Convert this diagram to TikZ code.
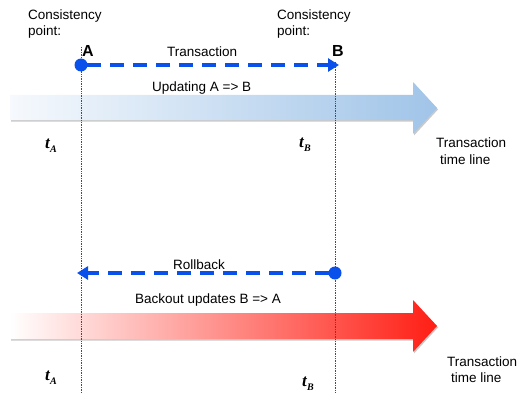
\documentclass[tikz,border=0pt]{standalone}
\usepackage{fontspec}
\setmainfont{Liberation Sans}
\newfontfamily\tfont{Liberation Serif}
\usetikzlibrary{arrows.meta,shadows}

\definecolor{lineblue}{RGB}{10,80,235}
\definecolor{paleblue}{RGB}{160,196,232}
\definecolor{startblue}{RGB}{246,249,253}
\definecolor{hotred}{RGB}{255,30,20}

\tikzset{
  lbl/.style={font=\fontsize{13.5}{15}\selectfont, inner sep=0pt, anchor=base west},
  ptlbl/.style={font=\fontsize{16}{18}\selectfont\bfseries, inner sep=0pt, anchor=base west},
  tlbl/.style={font=\fontsize{17}{19}\selectfont\tfont\bfseries\itshape, inner sep=0pt, anchor=base west},
  guide/.style={densely dotted, line width=0.7pt, black!70},
  flow/.style={draw=lineblue, line width=3.8pt, dash pattern=on 14pt off 9pt,
               -{Triangle[length=11pt,width=13pt]}},
  dot/.style={circle, fill=lineblue, minimum size=13pt, inner sep=0pt},
  bigarrow/.style={drop shadow={shadow xshift=1pt, shadow yshift=-1.5pt, opacity=0.35, fill=black!60}}
}

% italic t with a lowered subscript letter
\newcommand{\tsub}[1]{t\kern0.3pt\raisebox{-4pt}{\fontsize{10}{11}\selectfont #1}}

\begin{document}
\begin{tikzpicture}[x=1pt,y=-1pt]
  \useasboundingbox (0,0) rectangle (521,393);

  % --- upper timeline: forward transaction ---
  \shade[bigarrow, left color=startblue, right color=paleblue]
    (10,95) -- (413,95) -- (413,82) -- (437,108) -- (413,134) -- (413,120) -- (10,120) -- cycle;

  % --- lower timeline: rollback ---
  \shade[bigarrow, left color=white, right color=hotred]
    (10,313) -- (413,313) -- (413,300) -- (437,326) -- (413,352) -- (413,339) -- (10,339) -- cycle;

  % consistency-point guides
  \coordinate (gA) at (81,47);
  \coordinate (gAe) at (81,393);
  \coordinate (gB) at (335,62);
  \coordinate (gBe) at (335,393);
  \draw[guide] (gA) -- (gAe);
  \draw[guide] (gB) -- (gBe);

  % labels at the top
  \node[lbl] (cpA1) at (28,19.5) {Consistency};
  \node[lbl] (cpA2) at (28,35.5) {point:};
  \node[lbl] (cpB1) at (277,19.5) {Consistency};
  \node[lbl] (cpB2) at (277,35.5) {point:};
  \node[ptlbl] (labA) at (82,57) {A};
  \node[ptlbl] (labB) at (332,57) {B};

  % forward transaction A -> B
  \node[dot] (dA) at (81,65) {};
  \coordinate (eB) at (339,65);
  \draw[flow] (dA.center) ++(6,0) -- (eB);
  \node[lbl] (trans) at (167,57) {Transaction};
  \node[lbl] (upd) at (152,92) {Updating A => B};

  % rollback B -> A
  \node[dot] (dB) at (335,273) {};
  \coordinate (eA) at (77,273);
  \draw[flow] (dB.center) ++(-6,0) -- (eA);
  \node[lbl] (rb) at (173,269) {Rollback};
  \node[lbl] (bo) at (135,303) {Backout updates B => A};

  % time marks
  \node[tlbl] (tA1) at (45,148) {\tsub{A}};
  \node[tlbl] (tB1) at (299,147) {\tsub{B}};
  \node[tlbl] (tA2) at (45,380) {\tsub{A}};
  \node[tlbl] (tB2) at (302,386) {\tsub{B}};

  % timeline captions
  \node[lbl] (cap1a) at (436,147) {Transaction};
  \node[lbl] (cap1b) at (440,164) {time line};
  \node[lbl] (cap2a) at (447,366) {Transaction};
  \node[lbl] (cap2b) at (451,382) {time line};
\end{tikzpicture}
\end{document}
